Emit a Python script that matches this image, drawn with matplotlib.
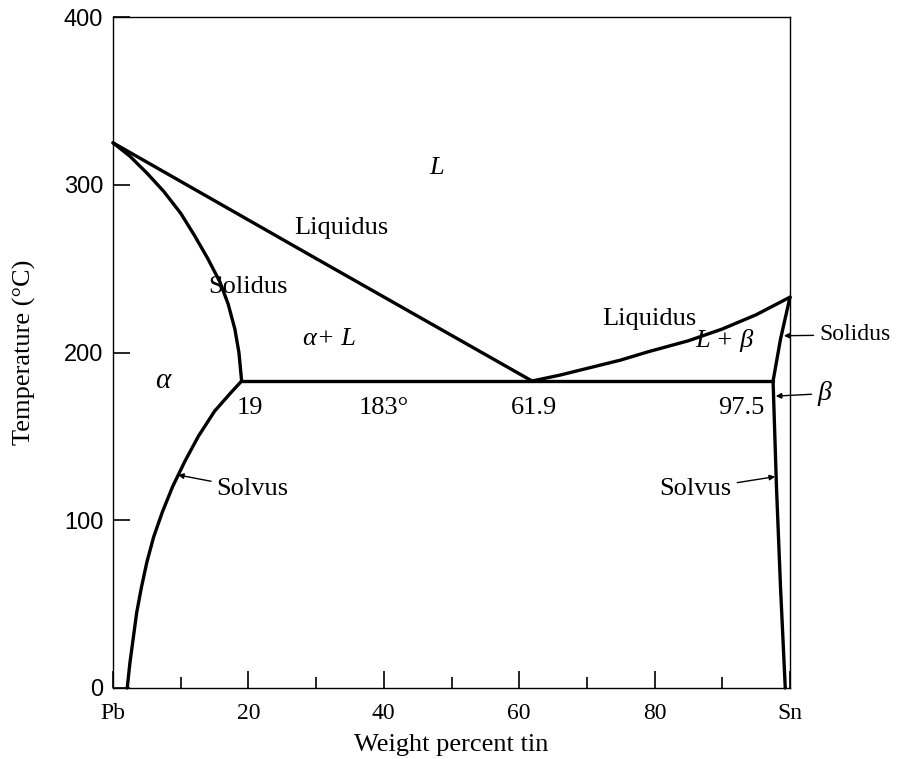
import matplotlib
matplotlib.use("Agg")
import matplotlib.pyplot as plt

plt.rcParams['font.family'] = ['Liberation Serif', 'DejaVu Serif']
plt.rcParams['mathtext.fontset'] = 'stix'

# ---- data (weight percent tin, temperature in C) ----
liq_left_x = [0, 30, 61.9]
liq_left_t = [325, 256, 183]
liq_right_x = [61.9, 66, 70, 75, 79.1, 85, 90, 95, 100]
liq_right_t = [183, 186.5, 190.5, 195.5, 200.5, 207, 214, 222.5, 233]
sol_a_x = [0, 2.5, 5, 7.5, 10, 12, 14, 15.8, 17, 18, 18.6, 19]
sol_a_t = [325, 317, 307, 296, 283, 270, 256, 242, 229, 214, 200, 183]
solv_a_x = [2.1, 2.5, 3.0, 3.5, 4.2, 5.0, 6.0, 7.3, 8.8, 10.6, 12.6, 15.0, 17.4, 19]
solv_a_t = [0, 15, 30, 45, 60, 75, 90, 105, 120, 135, 150, 165, 176, 183]
eut_x = [19, 97.5]
eut_t = [183, 183]
sol_b_x = [97.5, 98.6, 100]
sol_b_t = [183, 208, 233]
solv_b_x = [97.5, 98.0, 98.6, 99.3]
solv_b_t = [183, 120, 60, 0]

xticks = [0, 20, 40, 60, 80, 100]
xticklabels = ['Pb', '20', '40', '60', '80', 'Sn']
xminor = [10, 30, 50, 70, 90]
yticks = [0, 100, 200, 300, 400]

fig = plt.figure(figsize=(9, 7.59), dpi=100)
ax = fig.add_axes([113/900, 71/759, 677/900, 671/759])
lw = 2.4
for xs, ts in [(liq_left_x, liq_left_t), (liq_right_x, liq_right_t),
               (sol_a_x, sol_a_t), (solv_a_x, solv_a_t), (eut_x, eut_t),
               (sol_b_x, sol_b_t), (solv_b_x, solv_b_t)]:
    ax.plot(xs, ts, color='black', lw=lw, solid_capstyle='round',
            solid_joinstyle='round', clip_on=False)

ax.set_xlim(0, 100)
ax.set_ylim(0, 400)
for s in ax.spines.values():
    s.set_linewidth(1.0)
ax.set_xticks(xticks)
ax.set_xticklabels(xticklabels)
ax.set_xticks(xminor, minor=True)
ax.set_yticks(yticks)
ax.tick_params(axis='x', which='major', direction='in', length=12, width=1.2,
               pad=11, labelsize=17)
ax.tick_params(axis='x', which='minor', direction='in', length=8, width=1.2)
ax.tick_params(axis='y', which='major', direction='in', length=12, width=1.2,
               pad=7, labelsize=17)
for lab in ax.get_yticklabels():
    lab.set_family(['Liberation Sans', 'DejaVu Sans'])

ax.set_xlabel('Weight percent tin', fontsize=19, labelpad=7)
ax.set_ylabel('Temperature (°C)', fontsize=19, labelpad=20)

fs = 19
ax.text(47.8, 310, 'L', style='italic', fontsize=fs, ha='center', va='center')
ax.text(33.8, 274.5, 'Liquidus', fontsize=fs, ha='center', va='center')
ax.text(20.0, 239, 'Solidus', fontsize=fs, ha='center', va='center')
ax.text(32, 208, 'α+ L', style='italic', fontsize=fs, ha='center', va='center')
ax.text(7.4, 183, 'α', style='italic', fontsize=fs + 2, ha='center', va='center')
ax.text(20.2, 167, '19', fontsize=fs, ha='center', va='center')
ax.text(40, 167, '183°', fontsize=fs, ha='center', va='center')
ax.text(62.2, 167, '61.9', fontsize=fs, ha='center', va='center')
ax.text(92.8, 167, '97.5', fontsize=fs, ha='center', va='center')
ax.text(79.2, 220, 'Liquidus', fontsize=fs, ha='center', va='center')
ax.text(90.3, 207, 'L + β', style='italic', fontsize=fs, ha='center', va='center')

arrow = dict(arrowstyle='-|>', color='black', lw=1.0, mutation_scale=8,
             shrinkA=2, shrinkB=0)
ax.annotate('Solidus', xy=(99.1, 210), xytext=(104.3, 210.5), fontsize=17,
            ha='left', va='center', arrowprops=arrow, annotation_clip=False)
ax.annotate('β', xy=(97.9, 174), xytext=(104.0, 175.5), fontsize=fs + 1,
            style='italic', ha='left', va='center', arrowprops=arrow,
            annotation_clip=False)
ax.annotate('Solvus', xy=(9.6, 127), xytext=(15.3, 118.5), fontsize=fs,
            ha='left', va='center', arrowprops=arrow)
ax.annotate('Solvus', xy=(97.8, 126), xytext=(91.4, 118.5), fontsize=fs,
            ha='right', va='center', arrowprops=arrow)

fig.savefig('out.png', dpi=100)
